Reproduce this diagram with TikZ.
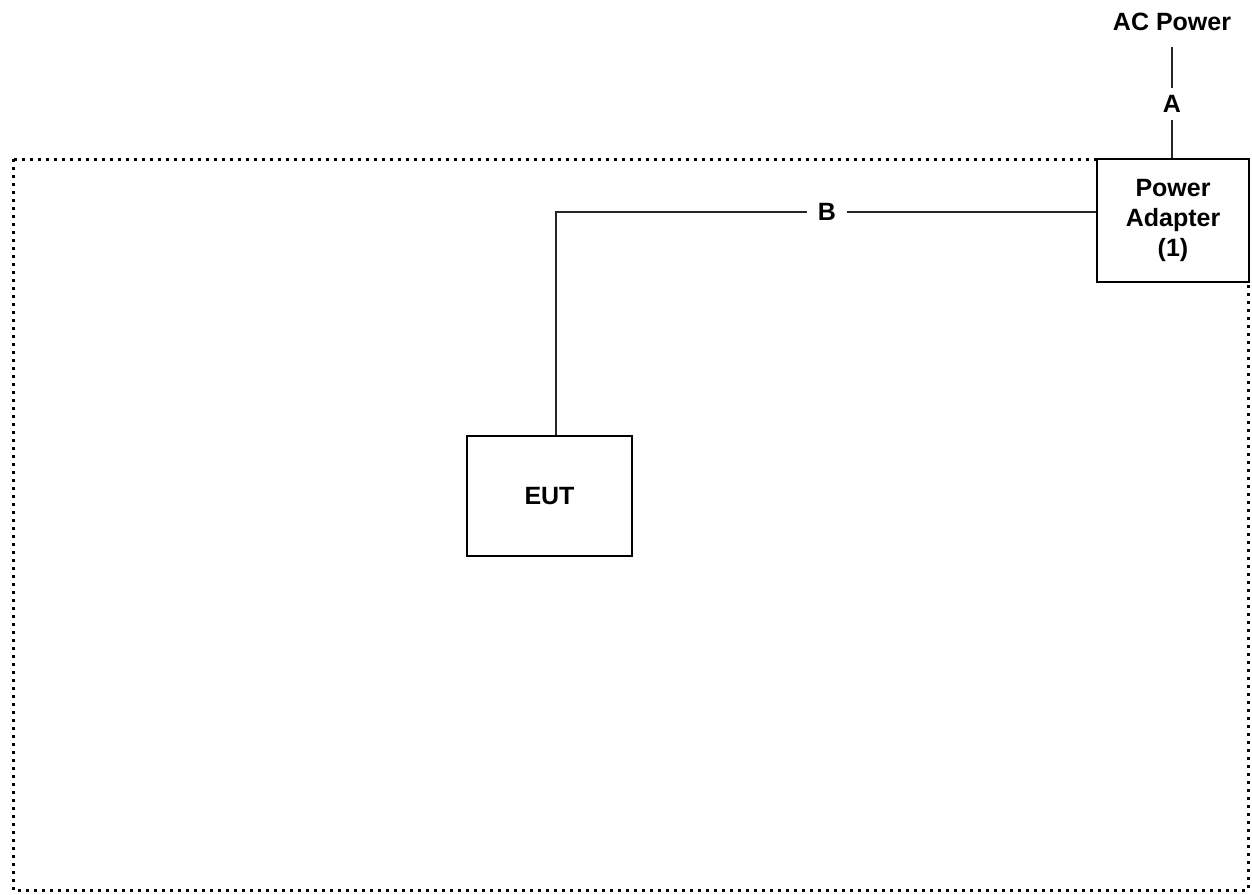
\documentclass[tikz,border=0pt]{standalone}
\usepackage{fontspec}
\setmainfont{Liberation Sans}
\begin{document}
\begin{tikzpicture}[x=1pt,y=-1pt,
  box/.style={draw=black,line width=2.8pt,inner sep=0pt,fill=white,font=\fontsize{25}{30}\selectfont\bfseries,align=center},
  lbl/.style={font=\fontsize{25}{30}\selectfont\bfseries,inner sep=1pt},
  gap/.style={font=\fontsize{25}{30}\selectfont\bfseries,inner xsep=11pt,inner ysep=7pt},
  wire/.style={line width=2.2pt,draw=black!85}]
\useasboundingbox (0,0) rectangle (1252,894);
\draw[line width=3pt,dash pattern=on 3pt off 5pt] (13,159) rectangle (1248,890);
\node[box,minimum width=152pt,minimum height=123pt] (pa) at (1173,220.5) {Power\\Adapter\\(1)};
\node[box,minimum width=165pt,minimum height=120pt] (eut) at (549.5,496) {EUT};
\node[lbl] (ac) at (1172,22) {AC Power};
\node[gap] (A) at (1172,104) {A};
\node[gap] (B) at (827,212) {B};
\coordinate (corner) at (556,212);
\draw[wire] (ac.south |- 0,47) -- (A.north);
\draw[wire] (A.south) -- (A.south |- pa.north);
\draw[wire] (eut.north -| corner) -- (corner) -- (B.west);
\draw[wire] (B.east) -- (B.east -| pa.west);
\end{tikzpicture}
\end{document}
